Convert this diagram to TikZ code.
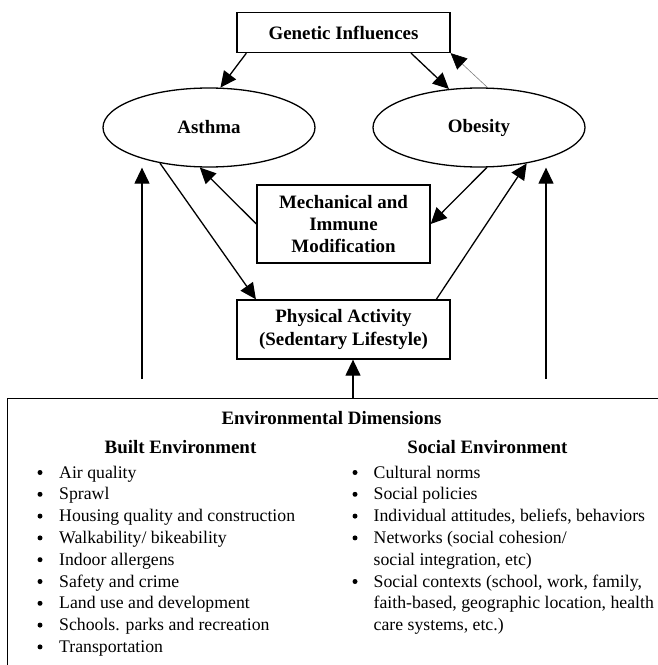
\documentclass[tikz,border=0pt]{standalone}
\usepackage{fontspec}
\setmainfont{Liberation Serif}
\usetikzlibrary{arrows.meta,shapes.geometric}

\begin{document}
\begin{tikzpicture}[
    x=1bp,
    y=-1bp,
    box/.style={
        draw,
        line width=1.3bp,
        inner sep=0pt,
        align=center,
        font=\fontsize{19}{22.5}\selectfont\bfseries
    },
    oval/.style={
        ellipse,
        draw,
        line width=1.3bp,
        inner sep=0pt,
        minimum width=212bp,
        minimum height=79bp,
        font=\fontsize{19}{22.5}\selectfont\bfseries
    },
    edge/.style={
        -{Triangle[length=16bp,width=15bp]},
        line width=1.3bp
    },
    thinedge/.style={
        -{Triangle[length=16bp,width=15bp,color=black]},
        draw=gray,
        line width=0.6bp
    },
    heading/.style={
        anchor=base,
        inner sep=0pt,
        font=\fontsize{19}{22}\selectfont\bfseries
    },
    item/.style={
        anchor=base west,
        inner sep=0pt,
        font=\fontsize{17.8}{22}\selectfont
    },
    dot/.style={
        circle,
        fill,
        inner sep=0pt,
        minimum size=5bp
    }
]

    \useasboundingbox (0,0) rectangle (658,665);

    \node[box, minimum width=213bp, minimum height=40bp] (gen) at (343.5,32.5) {Genetic Influences};
    \node[oval] (asthma) at (209,127.5) {Asthma};
    \node[oval] (obesity) at (479,127.5) {Obesity};
    \node[box, minimum width=173bp, minimum height=78bp] (mech) at (343.5,224) {Mechanical and\\Immune\\Modification};
    \node[box, minimum width=213bp, minimum height=59bp] (pa) at (343.5,329.5) {Physical Activity\\(Sedentary Lifestyle)};
    \node[draw, line width=1.3bp, anchor=north west, minimum width=700bp, minimum height=300bp] (env) at (7,397.5) {};

    \draw[edge] (gen.192.7) -- (asthma.74);
    \draw[edge] (gen.343.7) -- (obesity.128);
    \draw[thinedge] (obesity.78) -- (gen.south east);
    \draw[edge] (mech.west) -- (asthma.257);
    \draw[edge] (obesity.281.5) -- (mech.east);
    \draw[edge] (asthma.216) -- (pa.161);
    \draw[edge] (pa.18.7) -- (obesity.323.7);

    \coordinate (lfoot) at (142,379);
    \coordinate (rfoot) at (546,379);
    \coordinate (envup) at (353,397.5);
    \draw[edge] (lfoot) -- (lfoot |- asthma.south);
    \draw[edge] (rfoot) -- (rfoot |- obesity.south);
    \draw[edge] (envup) -- (envup |- pa.south);

    \node[heading] (envtitle) at (331.5,424) {Environmental Dimensions};
    \node[heading] (builthead) at (180.5,453) {Built Environment};
    \node[heading] (socialhead) at (487.5,453) {Social Environment};

    % built environment list
    \foreach \txt [count=\i] in {Air quality, Sprawl, Housing quality and construction,
        Walkability/ bikeability, Indoor allergens, Safety and crime,
        Land use and development, Schools. parks and recreation, Transportation} {
        \node[item] (built\i) at (59,{478+21.8*(\i-1)}) {\txt};
        \node[dot] (builtdot\i) at (40,{472.5+21.8*(\i-1)}) {};
    }

    % social environment list, one node per printed line
    \foreach \txt [count=\i] in {Cultural norms, Social policies,
        {Individual attitudes, beliefs, behaviors}, {Networks (social cohesion/},
        {social integration, etc)}, {Social contexts (school, work, family,},
        {faith-based, geographic location, health}, {care systems, etc.)}} {
        \node[item] (social\i) at (373.5,{478+21.8*(\i-1)}) {\txt};
    }
    \foreach \i in {1,2,3,4,6}
        \node[dot] (socialdot\i) at (355,{472.5+21.8*(\i-1)}) {};

\end{tikzpicture}
\end{document}
